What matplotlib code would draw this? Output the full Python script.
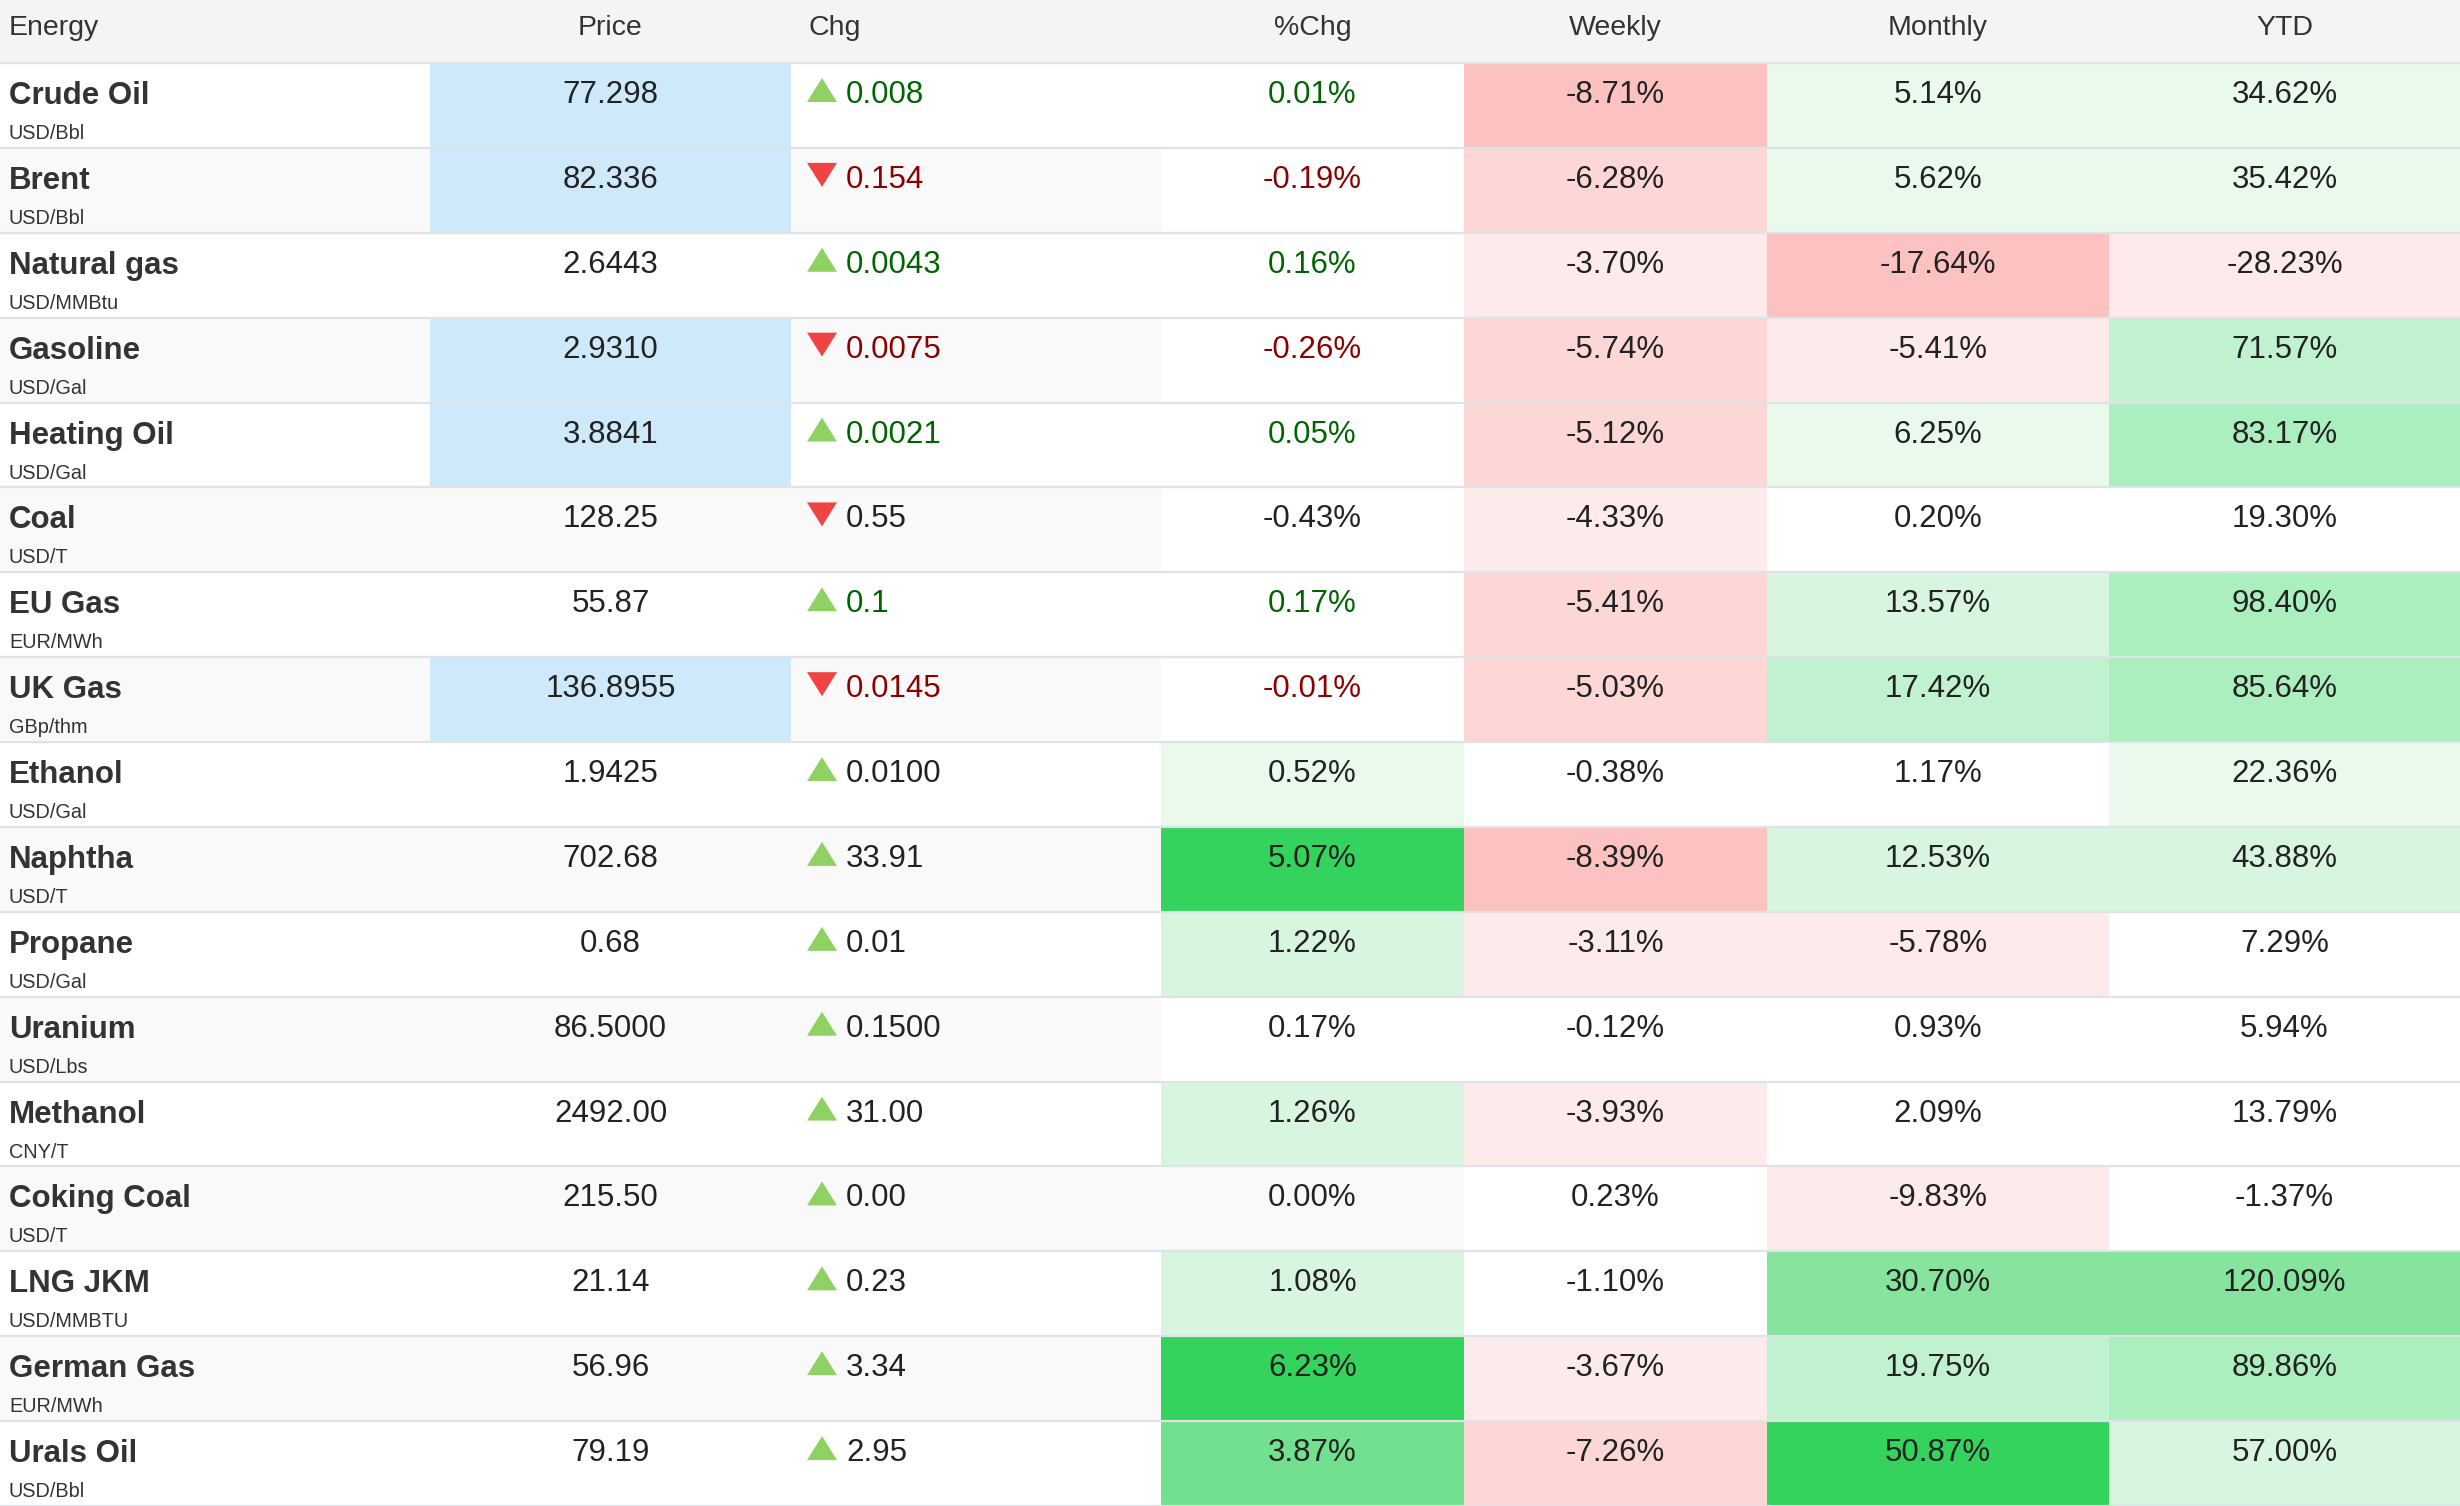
import matplotlib
matplotlib.use("Agg")
import matplotlib.pyplot as plt
from matplotlib.patches import Rectangle, Polygon

# ---------------- data ----------------
names = ["Crude Oil", "Brent", "Natural gas", "Gasoline", "Heating Oil", "Coal",
         "EU Gas", "UK Gas", "Ethanol", "Naphtha", "Propane", "Uranium",
         "Methanol", "Coking Coal", "LNG JKM", "German Gas", "Urals Oil"]
units = ["USD/Bbl", "USD/Bbl", "USD/MMBtu", "USD/Gal", "USD/Gal", "USD/T",
         "EUR/MWh", "GBp/thm", "USD/Gal", "USD/T", "USD/Gal", "USD/Lbs",
         "CNY/T", "USD/T", "USD/MMBTU", "EUR/MWh", "USD/Bbl"]
prices = ["77.298", "82.336", "2.6443", "2.9310", "3.8841", "128.25",
          "55.87", "136.8955", "1.9425", "702.68", "0.68", "86.5000",
          "2492.00", "215.50", "21.14", "56.96", "79.19"]
changes = ["+0.008", "-0.154", "+0.0043", "-0.0075", "+0.0021", "-0.55",
           "+0.1", "-0.0145", "+0.0100", "+33.91", "+0.01", "+0.1500",
           "+31.00", "+0.00", "+0.23", "+3.34", "+2.95"]
pct_chg = [0.01, -0.19, 0.16, -0.26, 0.05, -0.43, 0.17, -0.01, 0.52, 5.07,
           1.22, 0.17, 1.26, 0.00, 1.08, 6.23, 3.87]
weekly = [-8.71, -6.28, -3.70, -5.74, -5.12, -4.33, -5.41, -5.03, -0.38, -8.39,
          -3.11, -0.12, -3.93, 0.23, -1.10, -3.67, -7.26]
monthly = [5.14, 5.62, -17.64, -5.41, 6.25, 0.20, 13.57, 17.42, 1.17, 12.53,
           -5.78, 0.93, 2.09, -9.83, 30.70, 19.75, 50.87]
ytd = [34.62, 35.42, -28.23, 71.57, 83.17, 19.30, 98.40, 85.64, 22.36, 43.88,
       7.29, 5.94, 13.79, -1.37, 120.09, 89.86, 57.00]
# rows whose price was just updated (blue price cell)
price_updated = [True, True, False, True, True, False, False, True, False,
                 False, False, False, False, False, False, False, False]
# rows whose change text is coloured
change_live = [True, True, True, True, True, False, True, True, False,
               False, False, False, False, False, False, False, False]

headers = ["Energy", "Price", "Chg", "%Chg", "Weekly", "Monthly", "YTD"]

# ---------------- style ----------------
W, H = 2460, 1506
HEADER_H = 63
ROW_H = (H - HEADER_H) / len(names)
col_edges = [0, 430, 791, 1161, 1464, 1767, 2109, 2460]

greens = ["#e9f9ec", "#d7f5df", "#c1f2cf", "#abefbf", "#86e49f", "#72e08e", "#34d35e"]
reds = ["#fdeaea", "#fdd6d6", "#fcc2c2", "#fbaeae", "#f99a9a", "#f78686", "#f57272"]
thresholds = {
    "pct": [0.5, 1, 2, 2.5, 3, 3.5, 4.5],
    "weekly": [3, 5, 8, 12, 16, 20, 25],
    "monthly": [5, 10, 15, 25, 30, 40, 50],
    "ytd": [20, 40, 60, 80, 100, 140, 180],
}

TXT = "#222222"
NAME_C = "#333333"
UP_TXT = "#006400"
DN_TXT = "#8b0000"
UP_TRI = "#8fd163"
DN_TRI = "#ef4444"
FONT = "Liberation Sans"


def cell_color(v, th):
    if v == 0:
        return None
    lvl = sum(1 for t in th if abs(v) >= t)
    if lvl == 0:
        return "#ffffff"
    pal = greens if v > 0 else reds
    return pal[min(lvl, len(pal)) - 1]


fig = plt.figure(figsize=(W / 100, H / 100), dpi=100)
ax = fig.add_axes([0, 0, 1, 1])
ax.set_xlim(0, W)
ax.set_ylim(H, 0)
ax.axis("off")

# header
ax.add_patch(Rectangle((0, 0), W, HEADER_H, color="#f4f4f4", lw=0))
hb = 35
ax.text(9, hb, headers[0], fontsize=20.5, family=FONT, color="#333333", va="baseline", ha="left")
ax.text((col_edges[1] + col_edges[2]) / 2, hb, headers[1], fontsize=20.5, family=FONT,
        color="#333333", va="baseline", ha="center")
ax.text(808, hb, headers[2], fontsize=20.5, family=FONT, color="#333333", va="baseline", ha="left")
for k in range(3, 7):
    ax.text((col_edges[k] + col_edges[k + 1]) / 2, hb, headers[k], fontsize=20.5, family=FONT,
            color="#333333", va="baseline", ha="center")

for i in range(len(names)):
    top = HEADER_H + i * ROW_H
    row_bg = "#ffffff" if i % 2 == 0 else "#f9f9f9"
    ax.add_patch(Rectangle((0, top), W, ROW_H, color=row_bg, lw=0))
    if price_updated[i]:
        ax.add_patch(Rectangle((col_edges[1], top), col_edges[2] - col_edges[1], ROW_H,
                               color="#cde9fa", lw=0))
    for k, (vals, key) in enumerate([(pct_chg, "pct"), (weekly, "weekly"),
                                     (monthly, "monthly"), (ytd, "ytd")]):
        c = cell_color(vals[i], thresholds[key])
        if c is not None:
            x0, x1 = col_edges[3 + k], col_edges[4 + k]
            ax.add_patch(Rectangle((x0, top), x1 - x0, ROW_H, color=c, lw=0))

    vb = top + 40
    # name + unit
    ax.text(9, top + 41, names[i], fontsize=22.5, fontweight="bold", family=FONT,
            color=NAME_C, va="baseline", ha="left")
    ax.text(9, top + 76, units[i], fontsize=14.3, family=FONT, color=NAME_C,
            va="baseline", ha="left")
    # price
    ax.text((col_edges[1] + col_edges[2]) / 2, vb, prices[i], fontsize=22.5, family=FONT,
            color=TXT, va="baseline", ha="center")
    # change
    up = not changes[i].startswith("-")
    if up:
        tri = [(807, top + 39), (837, top + 39), (822, top + 15)]
    else:
        tri = [(807, top + 15), (837, top + 15), (822, top + 39)]
    ax.add_patch(Polygon(tri, closed=True, color=UP_TRI if up else DN_TRI, lw=0))
    ctxt = UP_TXT if up else DN_TXT
    if not change_live[i]:
        ctxt = TXT
    ax.text(846, vb, changes[i][1:], fontsize=22.5, family=FONT, color=ctxt,
            va="baseline", ha="left")
    # % columns
    pc = TXT
    if change_live[i]:
        pc = UP_TXT if pct_chg[i] >= 0 else DN_TXT
    for k, vals in enumerate([pct_chg, weekly, monthly, ytd]):
        cx = (col_edges[3 + k] + col_edges[4 + k]) / 2
        ax.text(cx, vb, f"{vals[i]:.2f}%", fontsize=22.5, family=FONT,
                color=pc if k == 0 else TXT, va="baseline", ha="center")

# separators
for i in range(len(names) + 1):
    y = HEADER_H + i * ROW_H
    ax.plot([0, W], [y, y], color="#dfe2e6", lw=1.6, solid_capstyle="butt")

fig.savefig("out.png", dpi=100)
